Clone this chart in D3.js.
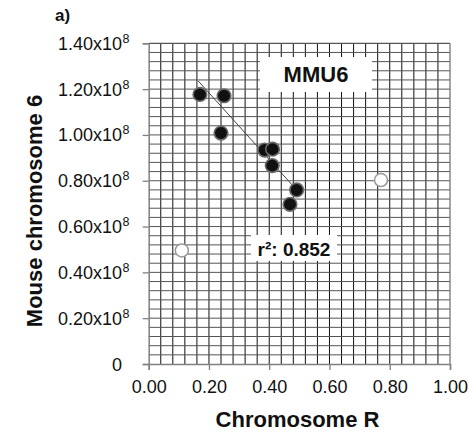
<!DOCTYPE html>
<html>
<head>
<meta charset="utf-8">
<script src="https://cdn.jsdelivr.net/npm/d3@7"></script>
<style>
  html, body { margin: 0; padding: 0; background: #fff; }
  svg { display: block; font-family: Arial, "Liberation Sans", sans-serif; }
</style>
</head>
<body>
<svg id="chart" width="468" height="434"></svg>
<script>
// ---- data (y values in units of 1e8) ----
const filledX = [0.170, 0.250, 0.240, 0.385, 0.411, 0.410, 0.491, 0.469];
const filledY = [1.177, 1.171, 1.008, 0.934, 0.938, 0.866, 0.760, 0.697];
const openX = [0.110, 0.771];
const openY = [0.496, 0.803];
const trendX = [0.164, 0.491];
const trendY = [1.236, 0.760];
const xTicks = [0.0, 0.2, 0.4, 0.6, 0.8, 1.0];
const xTickLabels = ["0.00", "0.20", "0.40", "0.60", "0.80", "1.00"];
const yTicks = [0, 0.2, 0.4, 0.6, 0.8, 1.0, 1.2, 1.4];
const yTickLabels = ["0", "0.20x10", "0.40x10", "0.60x10", "0.80x10", "1.00x10", "1.20x10", "1.40x10"];
const yTickSup = ["", "8", "8", "8", "8", "8", "8", "8"];
const gridStep = 0.04;
const panelLabel = "a)";
const seriesLabel = "MMU6";
const r2Label = "r²: 0.852";
const xTitle = "Chromosome R";
const yTitle = "Mouse chromosome 6";

const svg = d3.select("#chart");
const x = d3.scaleLinear().domain([0, 1]).range([148.7, 450]);
const y = d3.scaleLinear().domain([0, 1.4]).range([364, 43.3]);

// grid
const g = svg.append("g");
const vLines = d3.range(1, Math.round(1 / gridStep)).map(i => i * gridStep);
const hLines = d3.range(1, Math.round(1.4 / gridStep)).map(i => i * gridStep);
g.selectAll("line.v").data(vLines).enter().append("line")
  .attr("x1", d => x(d)).attr("x2", d => x(d))
  .attr("y1", y(0)).attr("y2", y(1.4))
  .attr("stroke", "#111").attr("stroke-width", 1);
g.selectAll("line.h").data(hLines).enter().append("line")
  .attr("x1", x(0)).attr("x2", x(1))
  .attr("y1", d => y(d)).attr("y2", d => y(d))
  .attr("stroke", "#555").attr("stroke-width", 1);
// border top/right
g.append("line").attr("x1", x(0)).attr("x2", x(1)).attr("y1", y(1.4)).attr("y2", y(1.4))
  .attr("stroke", "#555").attr("stroke-width", 1.3);
g.append("line").attr("x1", x(1)).attr("x2", x(1)).attr("y1", y(0)).attr("y2", y(1.4))
  .attr("stroke", "#777").attr("stroke-width", 1.3);

// axes
const xAxis = d3.axisBottom(x).tickValues(xTicks).tickSize(6).tickFormat((d, i) => xTickLabels[i]);
const yAxis = d3.axisLeft(y).tickValues(yTicks).tickSize(6).tickFormat(() => "");
const xg = svg.append("g").attr("transform", `translate(0,${y(0)})`).call(xAxis);
const yg = svg.append("g").attr("transform", `translate(${x(0)},0)`).call(yAxis);
[xg, yg].forEach(a => {
  a.select(".domain").attr("stroke", "#808080").attr("stroke-width", 1.5);
  a.selectAll(".tick line").attr("stroke", "#808080").attr("stroke-width", 1.3);
});
xg.selectAll(".tick text").attr("font-size", 18).attr("fill", "#111")
  .attr("font-family", "Arial, 'Liberation Sans', sans-serif").attr("dy", null).attr("y", 29);

// y tick labels with superscript
const yl = svg.append("g");
yTicks.forEach((v, i) => {
  yl.append("text").attr("x", 122).attr("y", y(v) + 6.5)
    .attr("text-anchor", "end").attr("font-size", 18).attr("fill", "#111")
    .text(yTickLabels[i]);
  if (yTickSup[i]) {
    yl.append("text").attr("x", 122.5).attr("y", y(v) - 0.5)
      .attr("font-size", 12.5).attr("fill", "#111").text(yTickSup[i]);
  }
});

// label boxes
svg.append("rect").attr("x", 260).attr("y", 57).attr("width", 112).attr("height", 35).attr("fill", "#fff");
svg.append("text").attr("x", 316).attr("y", 82).attr("text-anchor", "middle")
  .attr("font-size", 22).attr("font-weight", "bold").attr("fill", "#111").text(seriesLabel);
svg.append("rect").attr("x", 251).attr("y", 235).attr("width", 86).attr("height", 26).attr("fill", "#fff");
svg.append("text").attr("x", 294).attr("y", 256).attr("text-anchor", "middle")
  .attr("font-size", 19).attr("font-weight", "bold").attr("fill", "#111").text(r2Label);

// trend line
svg.append("line")
  .attr("x1", x(trendX[0])).attr("y1", y(trendY[0]))
  .attr("x2", x(trendX[1])).attr("y2", y(trendY[1]))
  .attr("stroke", "#444").attr("stroke-width", 1);

// points
svg.selectAll("circle.open").data(openX.map((d, i) => [d, openY[i]])).enter().append("circle")
  .attr("cx", d => x(d[0])).attr("cy", d => y(d[1])).attr("r", 6.5)
  .attr("fill", "#fff").attr("stroke", "#999").attr("stroke-width", 1.5);
svg.selectAll("circle.filled").data(filledX.map((d, i) => [d, filledY[i]])).enter().append("circle")
  .attr("cx", d => x(d[0])).attr("cy", d => y(d[1])).attr("r", 6.8)
  .attr("fill", "#111").attr("stroke", "#6a6a6a").attr("stroke-width", 1.6);

// titles
svg.append("text").attr("x", 297.5).attr("y", 427).attr("text-anchor", "middle")
  .attr("font-size", 22).attr("font-weight", "bold").attr("fill", "#111").text(xTitle);
svg.append("text").attr("transform", "translate(42,211) rotate(-90)").attr("text-anchor", "middle")
  .attr("font-size", 22).attr("font-weight", "bold").attr("fill", "#111").text(yTitle);
svg.append("text").attr("x", 55).attr("y", 21)
  .attr("font-size", 17).attr("font-weight", "bold").attr("fill", "#111").text(panelLabel);
</script>
</body>
</html>
